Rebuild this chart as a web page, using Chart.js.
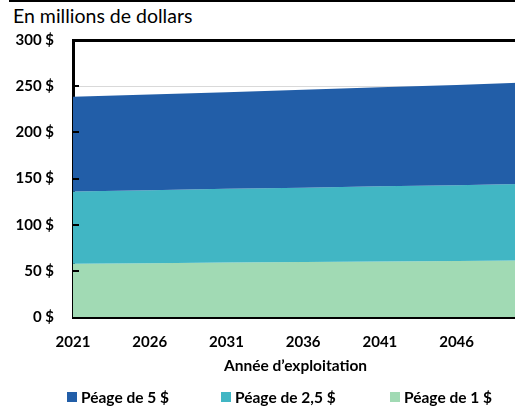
<!DOCTYPE html>
<html lang="fr">
<head>
<meta charset="utf-8">
<script src="https://cdn.jsdelivr.net/npm/chart.js@4.4.0/dist/chart.umd.min.js"></script>
<style>
  body { margin: 0; background: #fff; overflow: hidden; font-family: Lato, sans-serif; }
  #wrap { position: relative; width: 515px; height: 406px; overflow: hidden; }
  #topline { position: absolute; left: 9px; right: 0; top: 0; height: 2px; background: #000; }
  #unit { position: absolute; left: 13px; top: 4px; font-size: 19.5px; color: #000; }
  #chart { position: absolute; left: 0; top: 0; }
  #legend { position: absolute; left: 67px; top: 388px; display: flex;
            font-weight: bold; font-size: 15.5px; color: #000; }
  #legend span.item { display: flex; align-items: center; }
  #legend span.item:nth-child(1) { width: 154px; }
  #legend span.item:nth-child(2) { width: 169px; }
  #legend span.box { width: 10px; height: 10px; margin-right: 4px; display: inline-block; }
</style>
</head>
<body>
<div id="wrap">
  <div id="topline"></div>
  <div id="unit">En millions de dollars</div>
  <canvas id="chart" width="518" height="406"></canvas>
  <div id="legend"></div>
</div>
<script>
// années d'exploitation (points lus aux repères de l'axe + fin de période)
const years = [2021, 2026, 2031, 2036, 2041, 2046, 2050];
const tickYears = [2021, 2026, 2031, 2036, 2041, 2046];

// revenus annuels, en millions de dollars
const peage5 = [238.5, 241.0, 243.5, 246.0, 248.7, 251.3, 253.6];
const peage25 = [136.0, 137.4, 138.8, 140.1, 141.5, 142.8, 144.0];
const peage1 = [57.7, 58.3, 58.9, 59.5, 60.1, 60.7, 61.3];

const seriesNames = ['Péage de 5 $', 'Péage de 2,5 $', 'Péage de 1 $'];
const seriesColors = ['#225ea8', '#41b6c4', '#a1dab4'];

const yMax = 300;
const yStep = 50;

const toPoints = vals => vals.map((v, i) => ({ x: years[i], y: v }));

const seriesValues = [peage5, peage25, peage1];
// chaque aire remplit jusqu'à la série suivante, la dernière jusqu'à zéro
const fills = ['+1', '+1', 'origin'];

const datasets = seriesValues.map((vals, i) => ({
  label: seriesNames[i],
  data: toPoints(vals),
  backgroundColor: seriesColors[i],
  borderColor: seriesColors[i],
  borderWidth: 0,
  pointRadius: 0,
  fill: fills[i],
  tension: 0
}));

// petits traits vers l'intérieur sur l'axe vertical
const innerTicks = {
  id: 'innerTicks',
  afterDraw(chart) {
    const y = chart.scales.y;
    const ctx = chart.ctx;
    const left = chart.chartArea.left;
    ctx.save();
    ctx.strokeStyle = '#000';
    ctx.lineWidth = 2;
    y.ticks.forEach(t => {
      if (t.value === 0 || t.value === yMax) return;
      const py = Math.round(y.getPixelForValue(t.value));
      ctx.beginPath();
      ctx.moveTo(left, py);
      ctx.lineTo(left + 6, py);
      ctx.stroke();
    });
    ctx.restore();
  }
};

new Chart(document.getElementById('chart'), {
  type: 'line',
  data: { datasets },
  options: {
    responsive: false,
    animation: false,
    layout: { padding: { top: 40, right: 0, bottom: 31, left: 0 } },
    plugins: {
      legend: { display: false },
      tooltip: { enabled: false }
    },
    scales: {
      x: {
        type: 'linear',
        min: years[0],
        max: years[years.length - 1],
        afterBuildTicks: axis => { axis.ticks = tickYears.map(v => ({ value: v })); },
        afterFit: axis => { axis.height = 58; },
        grid: { display: false, drawTicks: false },
        border: { color: '#000', width: 3 },
        ticks: {
          color: '#000',
          padding: 16,
          maxRotation: 0,
          font: { family: 'Lato', size: 15, weight: 'bold' },
          callback: v => String(v)
        },
        title: {
          display: true,
          text: 'Année d’exploitation',
          color: '#000',
          padding: { top: 0, bottom: 0 },
          font: { family: 'Lato', size: 15.5, weight: 'bold' }
        }
      },
      y: {
        min: 0,
        max: yMax,
        afterFit: axis => { axis.width = 73; },
        grid: {
          drawTicks: false,
          color: c => (c.tick && c.tick.value === yMax ? '#000' : '#d9d9d9'),
          lineWidth: c => (c.tick && c.tick.value === yMax ? 3 : 1)
        },
        border: { color: '#000', width: 3 },
        ticks: {
          stepSize: yStep,
          color: '#000',
          padding: 19,
          font: { family: 'Lato', size: 15, weight: 'bold' },
          callback: v => v + ' $'
        }
      }
    }
  },
  plugins: [innerTicks]
});

// légende en HTML, construite à partir des séries
const legend = document.getElementById('legend');
seriesNames.forEach((name, i) => {
  const item = document.createElement('span');
  item.className = 'item';
  const box = document.createElement('span');
  box.className = 'box';
  box.style.background = seriesColors[i];
  item.appendChild(box);
  item.appendChild(document.createTextNode(name));
  legend.appendChild(item);
});
</script>
</body>
</html>
